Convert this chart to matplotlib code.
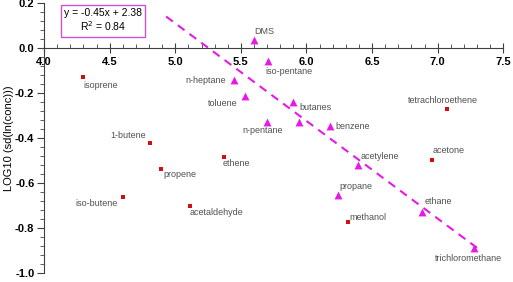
"""
Scatter of LOG10(sd(ln(conc))) against a compound property,
with the fitted trendline for the triangle group.
"""
import matplotlib
matplotlib.use('Agg')
import matplotlib.pyplot as plt
from matplotlib.ticker import MultipleLocator
import numpy as np

# red squares
sq_names = ['isoprene', '1-butene', 'propene', 'ethene', 'iso-butene',
            'acetaldehyde', 'tetrachloroethene', 'acetone', 'methanol']
sq_x = [4.30, 4.81, 4.89, 5.37, 4.60, 5.11, 7.07, 6.96, 6.32]
sq_y = [-0.128, -0.420, -0.538, -0.486, -0.664, -0.704, -0.272, -0.496, -0.775]

# magenta triangles
tri_names = ['DMS', 'iso-pentane', 'n-heptane', 'toluene', 'butanes', '',
             'n-pentane', 'benzene', 'acetylene', 'propane', 'ethane',
             'trichloromethane']
tri_x = [5.60, 5.71, 5.45, 5.53, 5.90, 5.94, 5.70, 6.18, 6.39, 6.24, 6.88, 7.28]
tri_y = [0.036, -0.058, -0.144, -0.212, -0.239, -0.327, -0.327, -0.347,
         -0.520, -0.653, -0.727, -0.890]

# trendline as drawn
fit_slope = -0.434
fit_intercept = 2.28
fit_range = [4.93, 7.31]
eq_text = 'y = -0.45x + 2.38\nR$^2$ = 0.84'

# label offsets in points (dx, dy, ha, va)
LABEL_POS = {
    'isoprene': (0, -3, 'left', 'top'),
    '1-butene': (-3, 2, 'right', 'bottom'),
    'propene': (2, -1, 'left', 'top'),
    'ethene': (-1, -1, 'left', 'top'),
    'iso-butene': (-4, -1, 'right', 'top'),
    'acetaldehyde': (0, -1, 'left', 'top'),
    'tetrachloroethene': (-3, 3, 'center', 'bottom'),
    'acetone': (0, 3, 'left', 'bottom'),
    'methanol': (1, 0, 'left', 'bottom'),
    'DMS': (0, 3, 'left', 'bottom'),
    'iso-pentane': (-2, -4.5, 'left', 'top'),
    'n-heptane': (-6, 0, 'right', 'center'),
    'toluene': (-5, -2, 'right', 'top'),
    'butanes': (4, -1, 'left', 'top'),
    'n-pentane': (-3, -3, 'center', 'top'),
    'benzene': (4, 0, 'left', 'center'),
    'acetylene': (2, 3, 'left', 'bottom'),
    'propane': (1, 3, 'left', 'bottom'),
    'ethane': (2, 4, 'left', 'bottom'),
    'trichloromethane': (-4, -4, 'center', 'top'),
}

plt.rcParams['font.family'] = ['Liberation Sans', 'DejaVu Sans']
MAGENTA = '#e619e6'
RED = '#d01010'
TXT = '#505050'

fig = plt.figure(figsize=(5.13, 2.82), dpi=100)
ax = fig.add_axes([0.086, 0.032, 0.895, 0.957])

ax.scatter(sq_x, sq_y, marker='s', s=7, color=RED, zorder=3, linewidths=0)
ax.scatter(tri_x, tri_y, marker='^', s=32, color=MAGENTA, zorder=3, linewidths=0)

xx = np.array(fit_range)
ax.plot(xx, fit_slope * xx + fit_intercept, color=MAGENTA, lw=1.5,
        dashes=(4, 3), zorder=2)

for names, xs, ys in [(sq_names, sq_x, sq_y), (tri_names, tri_x, tri_y)]:
    for n, x, y in zip(names, xs, ys):
        if not n:
            continue
        dx, dy, ha, va = LABEL_POS[n]
        ax.annotate(n, (x, y), xytext=(dx, dy), textcoords='offset points',
                    ha=ha, va=va, fontsize=6.5, color=TXT)

ax.text(0.129, 0.935, eq_text, transform=ax.transAxes, ha='center', va='center',
        fontsize=7.5, linespacing=1.15,
        bbox=dict(boxstyle='square,pad=0.3', fc='white', ec='#cc55cc', lw=1))

ax.set_xlim(4.0, 7.5)
ax.set_ylim(-1.0, 0.2)
ax.spines['top'].set_visible(False)
ax.spines['right'].set_visible(False)
ax.spines['bottom'].set_position(('data', 0))
ax.spines['left'].set_position(('data', 4.0))
for sp in ('bottom', 'left'):
    ax.spines[sp].set_color('#404040')
    ax.spines[sp].set_linewidth(0.8)

ax.xaxis.set_major_locator(MultipleLocator(0.5))
ax.xaxis.set_minor_locator(MultipleLocator(0.1))
ax.yaxis.set_major_locator(MultipleLocator(0.2))
ax.yaxis.set_minor_locator(MultipleLocator(0.04))
ax.tick_params(axis='x', which='major', direction='inout', length=7, width=0.8,
               color='#404040', labelsize=8, pad=3)
ax.tick_params(axis='x', which='minor', direction='in', length=3, width=0.6,
               color='#404040')
ax.tick_params(axis='y', which='major', direction='out', length=5, width=0.8,
               color='#404040', labelsize=8, pad=2)
ax.tick_params(axis='y', which='minor', direction='out', length=3, width=0.6,
               color='#404040')
ax.set_xticklabels(['{:.1f}'.format(v) for v in ax.get_xticks()], fontweight='bold')
ax.set_yticklabels(['{:.1f}'.format(v) for v in ax.get_yticks()], fontweight='bold')

ax.set_ylabel('LOG10 (sd(ln(conc)))', fontsize=8, labelpad=2)
ax.yaxis.set_label_coords(-0.065, 0.5)

fig.savefig('out.png', dpi=100)
